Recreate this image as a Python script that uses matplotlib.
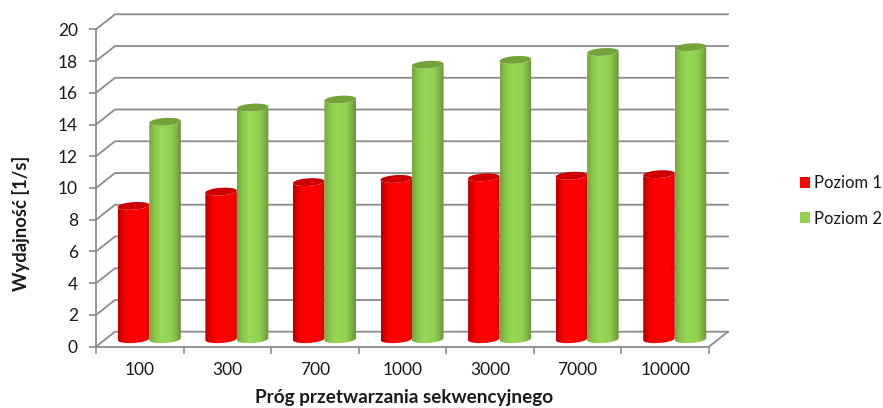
import numpy as np
import matplotlib
matplotlib.use('Agg')
import matplotlib.pyplot as plt
from matplotlib.patches import Polygon, Patch
from matplotlib.colors import LinearSegmentedColormap

labels = ['100', '300', '700', '1000', '3000', '7000', '10000']
poziom1 = [8.4, 9.3, 9.9, 10.1, 10.2, 10.3, 10.4]
poziom2 = [13.7, 14.6, 15.1, 17.3, 17.6, 18.1, 18.4]
y_ticks = list(range(0, 21, 2))

plt.rcParams['font.family'] = ['Lato', 'DejaVu Sans']
W, H = 883, 408
fig = plt.figure(figsize=(W / 100, H / 100), dpi=100)

# front plane of the box, in pixels
left, right, bottom, top = 96.0, 709.0, 346.7, 29.3
ax = fig.add_axes([left / W, 1 - bottom / H, (right - left) / W, (bottom - top) / H])
ax.set_xlim(0, 7)
ax.set_ylim(0, 20)
ax.patch.set_visible(False)

px_x = 7 / (right - left)
px_y = 20 / (bottom - top)
depth_x = 19 * px_x
depth_y = 15 * px_y
grid = '#8c8c8c'
text_color = '#1a1a1a'

# back wall, side wall and floor
for v in y_ticks:
    ax.plot([0, depth_x, 7 + depth_x], [v, v + depth_y, v + depth_y], color=grid, lw=1.3,
            clip_on=False, zorder=1, solid_joinstyle='miter')
ax.plot([7, 7 + depth_x], [0, depth_y], color=grid, lw=1.3, clip_on=False, zorder=1)

red_cmap = LinearSegmentedColormap.from_list(
    'r', [(0, '#b80000'), (0.22, '#f50000'), (0.4, '#ff0000'), (0.8, '#ff0000'), (1, '#d80000')])
green_cmap = LinearSegmentedColormap.from_list(
    'g', [(0, '#74a33c'), (0.18, '#8cc84c'), (0.4, '#97d856'), (0.7, '#92d050'), (0.88, '#7fb045'), (1, '#638d34')])
tops = {'r': '#cc0000', 'g': '#74a33a'}

bar_w = 31.5 * px_x
rx = bar_w / 2
ry = 3.8 * px_y
tilt = 2.0 * px_y / bar_w  # ellipses lean up towards the right
theta = np.linspace(0, np.pi, 60)
gradient = np.linspace(0, 1, 256).reshape(1, -1)


def cylinder(center, value, cmap, top_color, z):
    # base sits in the middle of the box depth
    cx = center + depth_x / 2
    base = depth_y / 2
    level = value + depth_y / 2
    xs = cx + rx * np.cos(theta)
    lean = tilt * (xs - cx)
    upper = level + lean - ry * np.sin(theta)
    lower = base + lean - ry * np.sin(theta)
    outline = np.column_stack([np.r_[xs, xs[::-1]], np.r_[upper, lower[::-1]]])
    body = Polygon(outline, closed=True, transform=ax.transData, fc='none', ec='none')
    ax.add_patch(body)
    im = ax.imshow(gradient, extent=[cx - rx, cx + rx, 0, 20], cmap=cmap, aspect='auto',
                   zorder=z, interpolation='bilinear')
    im.set_clip_path(body)
    im.set_clip_box(fig.bbox)
    t = np.linspace(0, 2 * np.pi, 80)
    ex = cx + rx * np.cos(t)
    ey = level + tilt * (ex - cx) + ry * np.sin(t)
    ax.add_patch(Polygon(np.column_stack([ex, ey]), closed=True, fc=top_color, ec='none',
                         zorder=z + 0.1, clip_on=False))


for i in range(len(labels)):
    cylinder(i + 0.5 - bar_w / 2, poziom1[i], red_cmap, tops['r'], 2 + i)
    cylinder(i + 0.5 + bar_w / 2, poziom2[i], green_cmap, tops['g'], 2.5 + i)

ax.set_xlim(0, 7)
ax.set_ylim(0, 20)

for s in ['top', 'right']:
    ax.spines[s].set_visible(False)
for s in ['left', 'bottom']:
    ax.spines[s].set_color(grid)
    ax.spines[s].set_linewidth(1.3)

ax.set_yticks(y_ticks)
ax.tick_params(axis='y', length=5, width=1.2, color=grid, labelsize=12.5, pad=8, labelcolor=text_color)
ax.set_xticks(range(8))
ax.set_xticklabels([])
ax.tick_params(axis='x', which='major', length=5, width=1.2, color=grid)
ax.set_xticks(np.arange(7) + 0.5, minor=True)
ax.set_xticklabels(labels, minor=True)
ax.tick_params(axis='x', which='minor', length=0, labelsize=12.5, pad=11, labelcolor=text_color)

fig.text(404 / W, 1 - 398 / H, 'Próg przetwarzania sekwencyjnego', ha='center', va='center',
         fontsize=13.6, fontweight='bold', color=text_color)
fig.text(21 / W, 1 - 223 / H, 'Wydajność [1/s]', ha='center', va='center', rotation=90,
         fontsize=13.3, fontweight='bold', color=text_color)

handles = [Patch(fc='#ff0000', label='Poziom 1'), Patch(fc='#92d050', label='Poziom 2')]
fig.legend(handles=handles, loc='center left', bbox_to_anchor=(799.5 / W, 1 - 201 / H), frameon=False,
           fontsize=12, borderpad=0, borderaxespad=0, handlelength=0.6, handleheight=0.6,
           handletextpad=0.3, labelspacing=1.15, labelcolor=text_color)

fig.savefig('out.png', dpi=100)
